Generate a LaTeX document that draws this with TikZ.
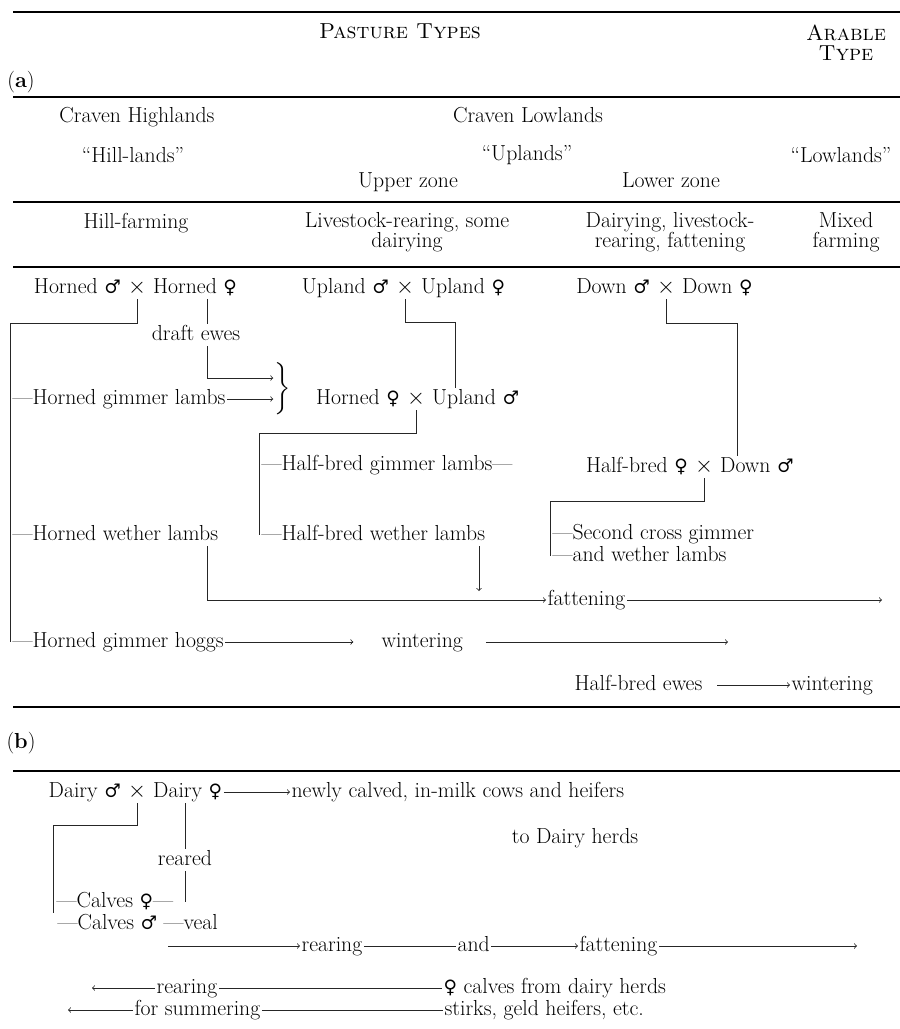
\documentclass[tikz,border=0pt]{standalone}
\usepackage{amsmath}
\usepackage{amssymb}
\usepackage{fontspec}
\usepackage{tikz}
\newfontfamily\symf{DejaVu Serif}[Scale=0.85]
\newcommand{\mal}{{\symf ♂}}
\newcommand{\fem}{{\symf ♀}}

\begin{document}
\begin{tikzpicture}[x=0.75pt,y=0.75pt,yscale=-1,xscale=1,
  every node/.style={font=\fontsize{16.3}{14.3}\selectfont, inner sep=1pt, text height=11pt, text depth=3.5pt},
  twoline/.style={align=center, text height={}, text depth={}, font=\fontsize{16.3}{15}\selectfont},
  cross/.style={inner xsep=4pt},
  link/.style={line width=0.6pt, color=black!85},
  rule/.style={line width=1pt}]
\useasboundingbox (0,0) rectangle (900,1029);
%Rules
\draw[rule] (13,12) -- (900,12);
\draw[rule] (13,97) -- (900,97);
\draw[rule] (13,202) -- (900,202);
\draw[rule] (13,267) -- (900,267);
\draw[rule] (13,707) -- (900,707);
\draw[rule] (13,771) -- (900,771);
% Text Node
\draw (400,33) node (pasture) {\textsc{Pasture Types}};
% Text Node
\draw (846,43) node (arable) [twoline] {\textsc{Arable}\\\textsc{Type}};
% Text Node
\draw (21,82) node (parta) {(\textbf{a})};
% Text Node
\draw (137,117) node (cravenH) {Craven Highlands};
% Text Node
\draw (528,117) node (cravenL) {Craven Lowlands};
% Text Node
\draw (133,157) node (hilllands) {``Hill-lands''};
% Text Node
\draw (527,155) node (uplands) {``Uplands''};
% Text Node
\draw (841,157) node (lowlands) {``Lowlands''};
% Text Node
\draw (408,182) node (upperzone) {Upper zone};
% Text Node
\draw (671,182) node (lowerzone) {Lower zone};
% Text Node
\draw (136,223) node (hillfarm) {Hill-farming};
% Text Node
\draw (407,232) node (livestock) [twoline] {Livestock-rearing, some\\dairying};
% Text Node
\draw (670,232) node (dairying) [twoline] {Dairying, livestock-\\rearing, fattening};
% Text Node
\draw (846,232) node (mixed) [twoline] {Mixed\\farming};
% Text Node
\draw (137,288) node (hx) [cross] {$\times$};
\draw (hx.west) node (hm) [anchor=east] {Horned \mal};
\draw (hx.east) node (hf) [anchor=west] {Horned \fem};
% Text Node
\draw (405,288) node (ux) [cross] {$\times$};
\draw (ux.west) node (um) [anchor=east] {Upland \mal};
\draw (ux.east) node (uf) [anchor=west] {Upland \fem};
% Text Node
\draw (666,288) node (dx) [cross] {$\times$};
\draw (dx.west) node (dm) [anchor=east] {Down \mal};
\draw (dx.east) node (df) [anchor=west] {Down \fem};
% Text Node
\draw (196,335) node (draft) {draft ewes};
% Text Node
\draw (283,389) node (brace) [text height={}, text depth={}] {$\bigg\}$};
% Text Node
\draw (11,399) node (hgl) [anchor=west] {---Horned gimmer lambs};
% Text Node
\draw (416,399) node (hux) [cross] {$\times$};
\draw (hux.west) node (huf) [anchor=east] {Horned \fem};
\draw (hux.east) node (hum) [anchor=west] {Upland \mal};
% Text Node
\draw (260,465) node (hbg) [anchor=west] {---Half-bred gimmer lambs---};
% Text Node
\draw (704,467) node (hdx) [cross] {$\times$};
\draw (hdx.west) node (hdf) [anchor=east] {Half-bred \fem};
\draw (hdx.east) node (hdm) [anchor=west] {Down \mal};
% Text Node
\draw (11,535) node (hwl) [anchor=west] {---Horned wether lambs};
% Text Node
\draw (260,535) node (hbw) [anchor=west] {---Half-bred wether lambs};
% Text Node
\draw (551,534) node (scl1) [anchor=west] {---Second cross gimmer};
% Text Node
\draw (551,556) node (scl2) [anchor=west] {---and wether lambs};
% Text Node
\draw (546,600) node (fat) [anchor=west] {fattening};
% Text Node
\draw (11,642) node (hgh) [anchor=west] {---Horned gimmer hoggs};
% Text Node
\draw (380,642) node (wint1) [anchor=west] {wintering};
% Text Node
\draw (573,685) node (hbe) [anchor=west] {Half-bred ewes};
% Text Node
\draw (790,685) node (wint2) [anchor=west] {wintering};
% Text Node
\draw (21,743) node (partb) {(\textbf{b})};
% Text Node
\draw (137,792) node (dx2) [cross] {$\times$};
\draw (dx2.west) node (dym) [anchor=east] {Dairy \mal};
\draw (dx2.east) node (dyf) [anchor=west] {Dairy \fem};
% Text Node
\draw (290,792) node (newly) [anchor=west] {newly calved, in-milk cows and heifers};
% Text Node
\draw (575,838) node (toherds) {to Dairy herds};
% Text Node
\draw (185,860) node (reared) {reared};
% Text Node
\draw (55,902) node (cf) [anchor=west] {---Calves \fem---};
% Text Node
\draw (56,924) node (cm) [anchor=west] {---Calves \mal\ ---veal};
% Text Node
\draw (300,946) node (rear1) [anchor=west] {rearing};
% Text Node
\draw (456,946) node (and1) [anchor=west] {and};
% Text Node
\draw (578,946) node (fat2) [anchor=west] {fattening};
% Text Node
\draw (155,988) node (rear2) [anchor=west] {rearing};
% Text Node
\draw (442,988) node (fcalves) [anchor=west] {\fem{} calves from dairy herds};
% Text Node
\draw (133,1010) node (summ) [anchor=west] {for summering};
% Text Node
\draw (443,1010) node (stirks) [anchor=west] {stirks, geld heifers, etc.};

%Straight Lines
\coordinate (hl) at (10,323);
\draw[link] (hx.south) |- (hl) -- (hl |- hgh.west);
%Straight Lines
\coordinate (de) at (207,378);
\draw[link] (hf.south -| de) -- (draft.north -| de);
\draw[link,->] (draft.south -| de) -- (de) -- (de -| brace.west);
\draw[link,->] (hgl.east) -- (hgl.east -| brace.west);
%Straight Lines
\coordinate (uc) at (455,322);
\draw[link] (ux.south) |- (uc) -- (uc |- hum.north);
%Straight Lines
\coordinate (hb) at (259,433);
\draw[link] (hux.south) |- (hb) -- (hb |- hbw.west);
%Straight Lines
\coordinate (dc) at (737,323);
\draw[link] (dx.south) |- (dc) -- (dc |- hdm.north);
%Straight Lines
\coordinate (sc) at (550,501);
\draw[link] (hdx.south) |- (sc) -- (sc |- scl2.west);
%Straight Lines
\coordinate (fw) at (207,600);
\coordinate (fatend) at (882,600);
\draw[link,->] (hwl.south -| fw) -- (fw) -- (fat.west);
\draw[link,->] (fat.east) -- (fatend);
\coordinate (fd) at (479,591);
\draw[link,->] (hbw.south -| fd) -- (fd);
%Straight Lines
\coordinate (w1end) at (728,642);
\draw[link,->,shorten >=20pt] (hgh.east) -- (wint1.west);
\draw[link,->,shorten <=16pt] (wint1.east) -- (w1end);
\draw[link,->,shorten <=10pt] (hbe.east) -- (wint2.west);
%Straight Lines
\draw[link,->] (dyf.east) -- (newly.west);
\coordinate (dl) at (53,825);
\draw[link] (dx2.south) |- (dl) -- (dl |- cf.south);
\draw[link] (dyf.south -| reared) -- (reared.north);
\draw[link] (reared.south) -- (reared.south |- cf.east);
%Straight Lines
\coordinate (rs) at (168,946);
\coordinate (f2end) at (857,946);
\draw[link,->] (rs) -- (rear1.west);
\draw[link] (rear1.east) -- (and1.west);
\draw[link,->] (and1.east) -- (fat2.west);
\draw[link,->] (fat2.east) -- (f2end);
%Straight Lines
\coordinate (r2end) at (92,988);
\coordinate (s2end) at (68,1010);
\draw[link,->] (rear2.west) -- (r2end);
\draw[link] (rear2.east) -- (fcalves.west);
\draw[link,->] (summ.west) -- (s2end);
\draw[link] (summ.east) -- (stirks.west);
\end{tikzpicture}
\end{document}
